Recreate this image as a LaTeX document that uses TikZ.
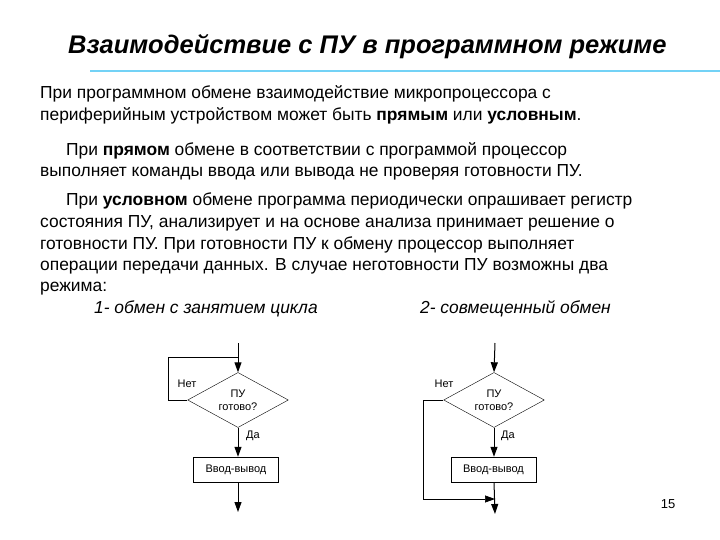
\documentclass[tikz,border=0pt]{standalone}
\usepackage{fontspec}
\setmainfont{Liberation Sans}
\usetikzlibrary{shapes.geometric,arrows.meta}
\begin{document}
\begin{tikzpicture}[x=1pt,y=-1pt,
  txt/.style={anchor=base west,inner sep=0,font=\fontsize{17.4}{20}\selectfont},
  sm/.style={inner sep=0,font=\fontsize{11}{13}\selectfont},
  dia/.style={draw,diamond,aspect=3,minimum width=84pt,minimum height=55pt,inner sep=0,font=\fontsize{11}{13}\selectfont,align=center},
  io/.style={draw,minimum width=85pt,minimum height=25pt,inner sep=0,font=\fontsize{11}{13}\selectfont},
  ar/.style={-{Stealth[length=10pt,width=7pt,inset=0pt,fill=black]},line width=1pt},
  ln/.style={line width=1pt}]
\useasboundingbox (0,0) rectangle (720,540);
\node[anchor=base west,inner sep=0,font=\fontsize{25.5}{28}\selectfont\bfseries\itshape] (title) at (68,54) {Взаимодействие с ПУ в программном режиме};
\draw[cyan!55,line width=2.5pt] (90,71) -- (720,71);
\node[txt] (l1) at (40,99) { При программном обмене взаимодействие микропроцессора с};
\node[txt] (l2) at (40,121) {периферийным устройством может быть \textbf{прямым} или \textbf{условным}.};
\node[txt] (l3) at (66,156) {При \textbf{прямом} обмене в соответствии с программой процессор};
\node[txt] (l4) at (40,177) {выполняет команды ввода или вывода не проверяя готовности ПУ.};
\node[txt] (l5) at (66,206) {При \textbf{условном} обмене программа периодически опрашивает регистр};
\node[txt] (l6) at (40,228) {состояния  ПУ, анализирует и на основе анализа принимает решение о};
\node[txt] (l7) at (40,249) {готовности ПУ. При готовности ПУ к обмену процессор выполняет};
\node[txt] (l8) at (40,270) {операции передачи данных. В случае неготовности ПУ возможны два};
\node[txt] (l9) at (40,291) {режима:};
\node[txt,font=\fontsize{17.4}{20}\selectfont\itshape] (m1) at (94,313) {1- обмен с занятием цикла};
\node[txt,font=\fontsize{17.4}{20}\selectfont\itshape] (m2) at (420,313) {2- совмещенный обмен};
% left flowchart
\coordinate (ltop) at (238,343);
\coordinate (lmerge) at (238,357);
\node[dia] (d1) at (238,400) {ПУ\\готово?};
\node[io] (b1) at (236,469.5) {Ввод-вывод};
\coordinate (lend) at (238,512);
\coordinate (lloop) at (168,400);
\draw[ar] (ltop) -- (d1.north);
\draw[ln] (d1.west) -- (lloop) |- (lmerge);
\draw[ar] (d1.south) -- (d1.south |- b1.north);
\draw[ar] (d1.south |- b1.south) -- (lend);
\node[sm] (n1) at (187,384) {Нет};
\node[sm] (y1) at (253,436) {Да};
% right flowchart
\coordinate (rtop) at (495,343);
\node[dia] (d2) at (494,400) {ПУ\\готово?};
\node[io] (b2) at (493.5,469.5) {Ввод-вывод};
\coordinate (rend) at (495,514);
\coordinate (rmerge) at (495,499);
\coordinate (rloop) at (423,400);
\draw[ar] (rtop) -- (d2.north);
\draw[ar] (d2.south) -- (d2.south |- b2.north);
\draw[ar] (d2.south |- b2.south) -- (rend);
\draw[ln] (d2.west) -- (rloop);
\draw[ar,line width=0.7pt] (rloop) |- (rmerge);
\node[sm] (n2) at (444,384) {Нет};
\node[sm] (y2) at (508,436) {Да};
\node[inner sep=0,font=\fontsize{13}{15}\selectfont] (pg) at (668,504) {15};
\end{tikzpicture}
\end{document}
